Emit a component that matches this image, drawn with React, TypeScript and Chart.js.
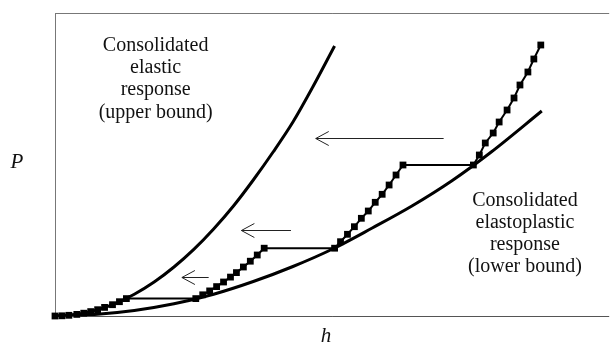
import React, { useEffect, useRef } from "react";
import { Chart, registerables } from "chart.js";

Chart.register(...registerables);

// Consolidated elastic response (upper bound)
const elasticH = [0, 20, 40, 60, 80, 100, 120, 140, 160, 180, 200, 220, 240, 260, 282];
const elasticP = [0, 1.4, 5.4, 12.2, 21.8, 34, 49, 66.6, 87, 110, 136, 164, 194, 229, 270];

// Consolidated elastoplastic response (lower bound)
const plasticH = [0, 40, 80, 120, 160, 200, 240, 280, 320, 360, 400, 440, 491];
const plasticP = [0, 1.5, 5.5, 12.2, 21.8, 34.5, 49.5, 67, 88, 110, 135, 164, 205];

// Stepwise loading path (square markers)
const pathH = [
  0, 7, 14, 22, 29, 36, 43, 50, 58, 65, 72,
  142, 149, 156, 163, 170, 177, 183, 190, 197, 204, 211,
  282, 288, 295, 302, 309, 316, 323, 330, 337, 344, 351,
  422, 428, 434, 442, 448, 456, 463, 469, 477, 483, 490,
];
const pathP = [
  0, 0.2, 0.7, 1.6, 2.8, 4.4, 6.3, 8.6, 11.3, 14.3, 17.4,
  17.4, 21.2, 25.1, 29.4, 34, 38.9, 43.4, 49, 54.8, 61, 67.8,
  67.8, 74.3, 81.7, 89.3, 97.7, 105, 113.7, 121.7, 131, 141, 151,
  151, 161, 173, 183, 194, 206, 218, 231, 244, 257, 271,
];

// Arrows: tail h, tip h, level P
const arrowTailH = [392, 238, 155];
const arrowTipH = [263, 188, 128];
const arrowP = [178, 86, 39];

const leftLabel = ["Consolidated", "elastic", "response", "(upper bound)"];
const leftLabelH = 101.5;
const leftLabelP = [265, 243, 221, 198];
const rightLabel = ["Consolidated", "elastoplastic", "response", "(lower bound)"];
const rightLabelH = 474;
const rightLabelP = [110, 88, 66, 44];

const xTitle = "h";
const yTitle = "P";

const toXY = (hs: number[], ps: number[]) => hs.map((h, i) => ({ x: h, y: ps[i] }));

const decorPlugin = {
  id: "decor",
  beforeDatasetsDraw(chart: any) {
    const { ctx, chartArea } = chart;
    const { left, top, bottom, right } = chartArea;
    ctx.save();
    ctx.lineWidth = 1;
    ctx.strokeStyle = "#777";
    ctx.beginPath();
    ctx.moveTo(left + 0.5, top);
    ctx.lineTo(left + 0.5, bottom);
    ctx.moveTo(left, top + 0.5);
    ctx.lineTo(right, top + 0.5);
    ctx.stroke();
    ctx.strokeStyle = "#555";
    ctx.beginPath();
    ctx.moveTo(left, bottom + 0.5);
    ctx.lineTo(right, bottom + 0.5);
    ctx.stroke();
    ctx.restore();
  },
  afterDatasetsDraw(chart: any) {
    const { ctx, chartArea, scales } = chart;
    const xs = scales.x;
    const ys = scales.y;
    ctx.save();
    ctx.strokeStyle = "#222";
    ctx.lineWidth = 1;
    for (let i = 0; i < arrowP.length; i++) {
      const x1 = xs.getPixelForValue(arrowTailH[i]);
      const x2 = xs.getPixelForValue(arrowTipH[i]);
      const y = Math.round(ys.getPixelForValue(arrowP[i])) + 0.5;
      ctx.beginPath();
      ctx.moveTo(x1, y);
      ctx.lineTo(x2, y);
      ctx.moveTo(x2 + 13, y - 7);
      ctx.lineTo(x2, y);
      ctx.lineTo(x2 + 13, y + 7);
      ctx.stroke();
    }
    ctx.fillStyle = "#111";
    ctx.font = '20px "Liberation Serif", "DejaVu Serif", serif';
    ctx.textAlign = "center";
    ctx.textBaseline = "alphabetic";
    leftLabel.forEach((t, i) => {
      ctx.fillText(t, xs.getPixelForValue(leftLabelH), ys.getPixelForValue(leftLabelP[i]));
    });
    rightLabel.forEach((t, i) => {
      ctx.fillText(t, xs.getPixelForValue(rightLabelH), ys.getPixelForValue(rightLabelP[i]));
    });
    ctx.font = 'italic 21px "Liberation Serif", "DejaVu Serif", serif';
    ctx.fillText(yTitle, 17, (chartArea.top + chartArea.bottom) / 2 + 3);
    ctx.fillText(xTitle, 326, 342);
    ctx.restore();
  },
};

export default function App() {
  const ref = useRef<HTMLCanvasElement | null>(null);
  useEffect(() => {
    document.body.style.margin = "0";
    const canvas = ref.current;
    if (!canvas) return;
    const chart = new Chart(canvas, {
      type: "line",
      data: {
        datasets: [
          {
            data: toXY(elasticH, elasticP),
            borderColor: "#000",
            borderWidth: 3,
            pointRadius: 0,
            cubicInterpolationMode: "monotone",
            fill: false,
          },
          {
            data: toXY(plasticH, plasticP),
            borderColor: "#000",
            borderWidth: 3,
            pointRadius: 0,
            cubicInterpolationMode: "monotone",
            fill: false,
          },
          {
            data: toXY(pathH, pathP),
            borderColor: "#000",
            borderWidth: 2,
            pointStyle: "rect",
            pointRadius: 4.8,
            pointBackgroundColor: "#000",
            pointBorderWidth: 0,
            tension: 0,
            fill: false,
            clip: false as any,
          },
        ],
      },
      options: {
        animation: false,
        responsive: false,
        maintainAspectRatio: false,
        layout: { padding: { left: 55, top: 13, right: 0, bottom: 31 } },
        plugins: { legend: { display: false }, tooltip: { enabled: false } },
        events: [],
        scales: {
          x: { type: "linear", min: 0, max: 559, display: false },
          y: { type: "linear", min: 0, max: 303, display: false },
        },
      },
      plugins: [decorPlugin],
    });
    return () => chart.destroy();
  }, []);
  return (
    <div style={{ width: 614, height: 347, background: "#fff" }}>
      <canvas ref={ref} width={614} height={347} style={{ display: "block" }} />
    </div>
  );
}
